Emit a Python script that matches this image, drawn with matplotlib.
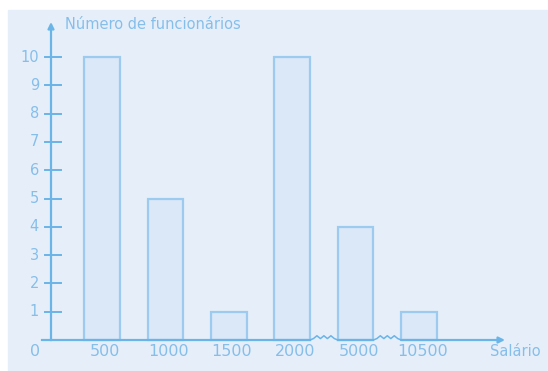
import matplotlib
matplotlib.use("Agg")
import matplotlib.pyplot as plt
import numpy as np
from matplotlib.patches import Rectangle

categories = ["500", "1000", "1500", "2000", "5000", "10500"]
counts = [10, 5, 1, 10, 4, 1]
y_ticks = [1, 2, 3, 4, 5, 6, 7, 8, 9, 10]

bg_color = "#E6EFF9"
bar_fill = "#DAE8F8"
bar_edge = "#9DCBEF"
axis_color = "#6AB4E8"
text_color = "#86BEEA"

W, H = 548, 371
fig = plt.figure(figsize=(W / 100, H / 100), dpi=100)
fig.patch.set_facecolor("white")
fig.patches.append(Rectangle((8 / W, 0), 1 - 8 / W, 1 - 10 / H,
                             transform=fig.transFigure, color=bg_color, zorder=-10))

ax = fig.add_axes([0, 0, 1, 1])
ax.set_facecolor("none")
# pixel mapping: bar centres 102 + 63.4*i, baseline at row 340, 28.3 px per unit
sx, sy = 63.4, 28.3
ax.set_xlim(1 - 102 / sx, 1 + (W - 102) / sx)
ax.set_ylim(-(H - 340) / sy, 340 / sy)
ax.axis("off")

x = np.arange(1, len(categories) + 1)
ax.bar(x, counts, width=0.56, color=bar_fill, edgecolor=bar_edge, linewidth=1.6, zorder=2)

y_axis_x = 1 + (51 - 102) / sx
x_end = 1 + (505 - 102) / sx
y_top = (340 - 22) / sy

# axes with arrows
ax.annotate("", xy=(y_axis_x, y_top), xytext=(y_axis_x, 0),
            arrowprops=dict(arrowstyle="-|>", color=axis_color, lw=1.6,
                            mutation_scale=9, shrinkA=0, shrinkB=0), zorder=3)
ax.plot([1 + (42 - 102) / sx, y_axis_x], [0, 0], color=axis_color, lw=1.6, zorder=3)

# baseline with breaks between 2000/5000 and 5000/10500
segs = [(y_axis_x, 4.28), (4.72, 5.28), (5.72, x_end)]
for a, b in segs[:-1]:
    ax.plot([a, b], [0, 0], color=axis_color, lw=1.6, zorder=3)
ax.annotate("", xy=(x_end, 0), xytext=(segs[-1][0], 0),
            arrowprops=dict(arrowstyle="-|>", color=axis_color, lw=1.6,
                            mutation_scale=9, shrinkA=0, shrinkB=0), zorder=3)
for a, b in [(4.28, 4.72), (5.28, 5.72)]:
    zx = np.linspace(a, b, 9)
    zy = np.array([0, 0.05, 0.15, 0.05, 0.15, 0.05, 0.15, 0.05, 0])
    ax.plot(zx, zy, color=axis_color, lw=1.1, zorder=3)

# y ticks
for t in y_ticks:
    ax.plot([y_axis_x - 6 / sx, y_axis_x + 10 / sx], [t, t], color=axis_color, lw=1.4, zorder=3)
    ax.text(y_axis_x - 12 / sx, t, str(t), ha="right", va="center",
            fontsize=10.5, color=text_color)

ax.text(1 + (35 - 102) / sx, -12 / sy, "0", ha="center", va="center",
        fontsize=11.5, color=text_color)
for xi, lab in zip(x, categories):
    ax.text(xi + 0.05, -12 / sy, lab, ha="center", va="center",
            fontsize=11.5, color=text_color)

ax.text(1 + (65 - 102) / sx, (340 - 24) / sy, "Número de funcionários",
        ha="left", va="center", fontsize=10.5, color=text_color)
ax.text(1 + (490 - 102) / sx, -12 / sy, "Salário",
        ha="left", va="center", fontsize=10.5, color=text_color)

fig.savefig("out.png", dpi=100)
